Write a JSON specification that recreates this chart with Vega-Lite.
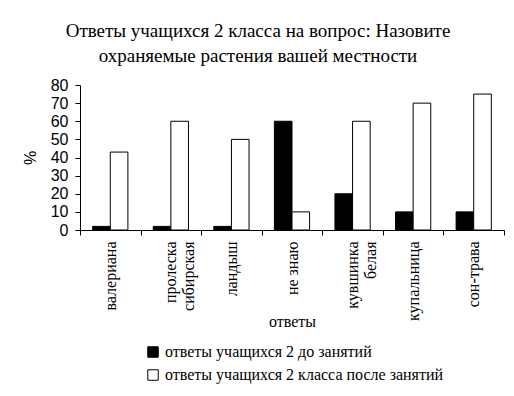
{
  "$schema": "https://vega.github.io/schema/vega-lite/v6.json",
  "width": 424,
  "height": 145,
  "autosize": {"type": "none"},
  "padding": {"left": 80, "top": 85, "right": 10, "bottom": 166},
  "background": "white",
  "title": {
    "text": ["Ответы учащихся 2 класса на вопрос: Назовите", "охраняемые растения вашей местности"],
    "font": "Liberation Serif",
    "fontSize": 19,
    "fontWeight": "normal",
    "color": "black",
    "anchor": "middle",
    "dx": -34,
    "offset": 11,
    "lineHeight": 25
  },
  "data": {
    "values": [
      {"cat": "валериана", "group": "ответы учащихся 2 до занятий", "value": 2},
      {"cat": "валериана", "group": "ответы учащихся 2 класса после занятий", "value": 43},
      {"cat": "пролеска сибирская", "group": "ответы учащихся 2 до занятий", "value": 2},
      {"cat": "пролеска сибирская", "group": "ответы учащихся 2 класса после занятий", "value": 60},
      {"cat": "ландыш", "group": "ответы учащихся 2 до занятий", "value": 2},
      {"cat": "ландыш", "group": "ответы учащихся 2 класса после занятий", "value": 50},
      {"cat": "не знаю", "group": "ответы учащихся 2 до занятий", "value": 60},
      {"cat": "не знаю", "group": "ответы учащихся 2 класса после занятий", "value": 10},
      {"cat": "кувшинка белая", "group": "ответы учащихся 2 до занятий", "value": 20},
      {"cat": "кувшинка белая", "group": "ответы учащихся 2 класса после занятий", "value": 60},
      {"cat": "купальница", "group": "ответы учащихся 2 до занятий", "value": 10},
      {"cat": "купальница", "group": "ответы учащихся 2 класса после занятий", "value": 70},
      {"cat": "сон-трава", "group": "ответы учащихся 2 до занятий", "value": 10},
      {"cat": "сон-трава", "group": "ответы учащихся 2 класса после занятий", "value": 75}
    ]
  },
  "mark": {"type": "bar", "stroke": "black", "strokeWidth": 1},
  "encoding": {
    "x": {
      "field": "cat",
      "type": "nominal",
      "sort": null,
      "scale": {"paddingInner": 0, "paddingOuter": 0},
      "axis": {
        "title": "ответы",
        "titleFont": "Liberation Serif",
        "titleFontSize": 16,
        "titleFontWeight": "normal",
        "titleColor": "black",
        "titleBaseline": "top",
        "titleY": 83,
        "labelFont": "Liberation Serif",
        "labelFontSize": 16,
        "labelColor": "black",
        "labelAngle": -90,
        "labelAlign": "right",
        "labelBaseline": "middle",
        "labelPadding": 6,
        "labelLineHeight": 18,
        "labelExpr": "datum.label == 'не знаю' ? datum.label : split(datum.label, ' ')",
        "tickBand": "extent",
        "tickSize": 5,
        "tickColor": "black",
        "domainColor": "black",
        "labelOverlap": false
      }
    },
    "xOffset": {
      "field": "group",
      "type": "nominal",
      "scale": {"paddingInner": 0, "paddingOuter": 0.72}
    },
    "y": {
      "field": "value",
      "type": "quantitative",
      "scale": {"domain": [0, 80]},
      "axis": {
        "title": "%",
        "titleFont": "Liberation Sans",
        "titleFontSize": 16,
        "titleFontWeight": "normal",
        "titleColor": "black",
        "titlePadding": 12,
        "labelFont": "Liberation Sans",
        "labelFontSize": 16,
        "labelColor": "black",
        "values": [0, 10, 20, 30, 40, 50, 60, 70, 80],
        "labelOverlap": false,
        "grid": false,
        "tickSize": 5,
        "tickColor": "black",
        "domainColor": "black",
        "labelPadding": 7
      }
    },
    "color": {
      "field": "group",
      "type": "nominal",
      "scale": {"range": ["black", "white"]},
      "legend": {
        "title": null,
        "orient": "none",
        "legendX": 65,
        "legendY": 259,
        "symbolType": "square",
        "symbolSize": 110,
        "symbolStrokeColor": "black",
        "symbolStrokeWidth": 1,
        "labelFont": "Liberation Serif",
        "labelFontSize": 16,
        "labelColor": "black",
        "labelLimit": 400,
        "rowPadding": 7,
        "labelOffset": 4
      }
    }
  },
  "config": {
    "view": {"stroke": null},
    "axis": {"domainWidth": 1, "tickWidth": 1}
  }
}
